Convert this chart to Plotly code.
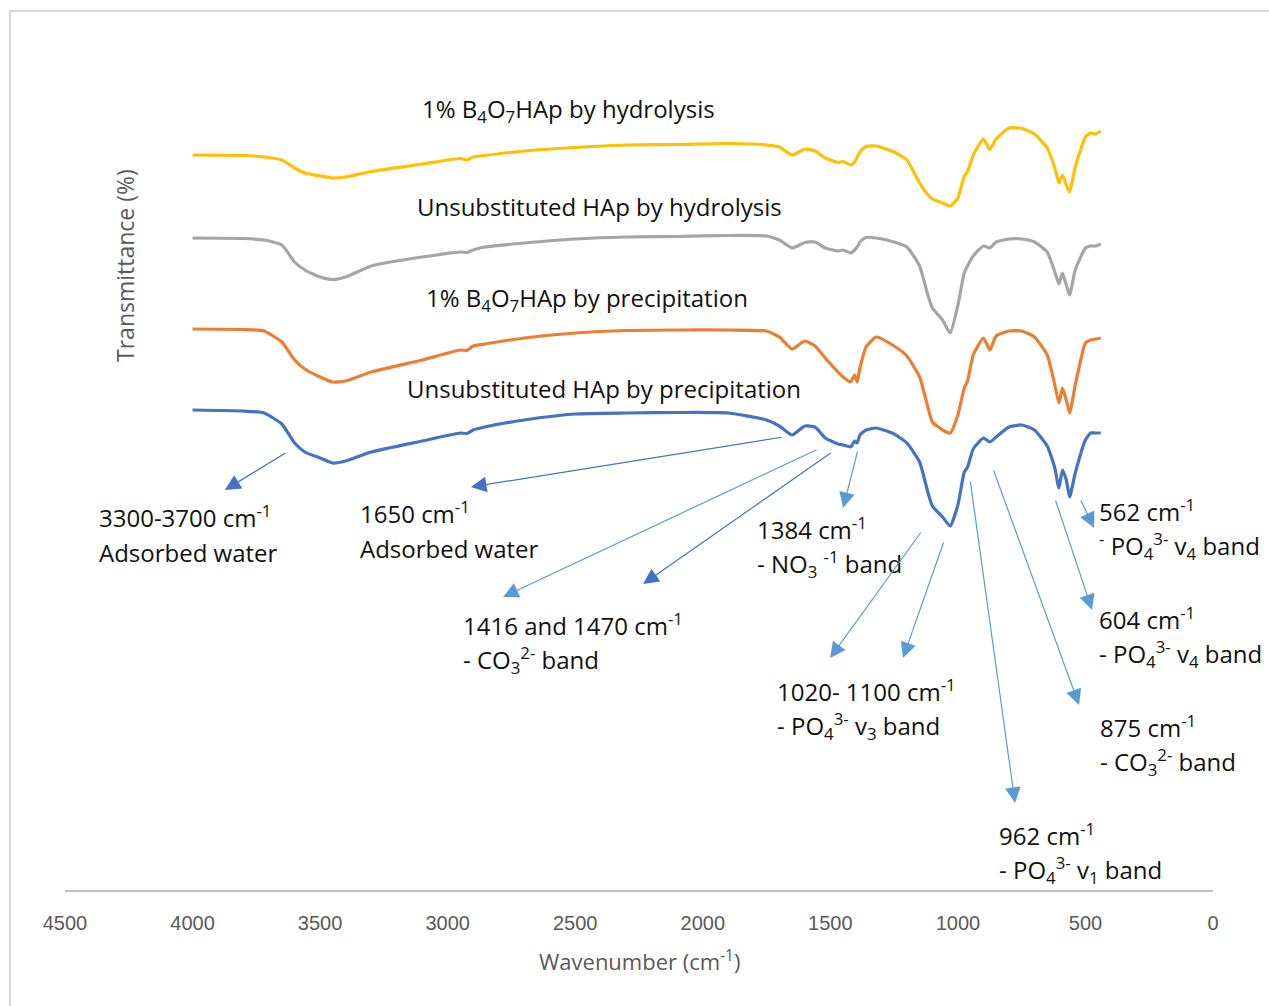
import plotly.graph_objects as go

# ---- FTIR spectra (wavenumber in cm-1, transmittance in offset arbitrary units) ----
wavenumber = [4000, 3800, 3720, 3650, 3600, 3560, 3500, 3450, 3400, 3300,
              3100, 2950, 2925, 2900, 2855, 2700, 2500, 2300, 2100, 1900,
              1750, 1700, 1650, 1600, 1560, 1520, 1470, 1450, 1420, 1405,
              1395, 1384, 1360, 1320, 1250, 1200, 1150, 1120, 1100, 1060,
              1030, 1000, 975, 962, 940, 900, 875, 850, 800, 750,
              700, 650, 620, 604, 590, 575, 562, 540, 500, 480,
              460, 440]

borate_hydrolysis = [735, 734.5, 733, 730, 722, 717, 714, 712, 713, 718.5,
                     726, 731.5, 730, 733, 734.5, 739, 742.5, 745, 745.5, 746.5,
                     745, 743, 735, 741, 739, 732, 727.5, 728.5, 725, 728,
                     733, 738, 743.5, 744, 738, 730, 707, 696, 691, 687,
                     684, 692, 714, 718.5, 735, 751, 740.5, 751, 762, 761.5,
                     756, 742, 722, 707, 715, 705, 698, 723, 753, 757,
                     756, 759]

hap_hydrolysis = [652, 651.5, 650, 645, 628, 620, 613, 610.5, 613, 624,
                  633, 638, 637.5, 640, 643, 647, 651, 653, 653.5, 654.5,
                  654, 650, 642, 647.5, 648, 642, 639, 640, 637, 640,
                  643, 648, 652.5, 652, 648, 643, 624, 597, 582, 570,
                  557, 585, 617, 624, 634, 644, 642, 648, 651, 651,
                  648, 638, 618, 606, 617, 605, 595, 620, 642, 644,
                  644, 646]

borate_precipitation = [561, 560.5, 559, 548, 530, 521, 513, 508, 509, 518,
                        530, 540, 539.5, 544, 546, 552, 557, 559.5, 560, 560,
                        559, 553, 541, 549, 544, 532, 518, 513, 508, 515,
                        508, 522, 543, 553, 544, 534, 513, 485, 468, 460,
                        457, 475, 502, 509, 535, 552, 540, 554, 559, 559,
                        553, 535, 505, 487, 502, 490, 477, 505, 547, 550,
                        551, 552]

hap_precipitation = [480, 479, 477, 466, 447, 438, 432, 427, 429, 438,
                     449, 457, 456.5, 460, 463, 470, 476, 477, 477.5, 477,
                     470, 464, 455, 464, 463, 452, 446, 445, 443, 449,
                     447, 455, 460, 462, 456, 447, 428, 400, 384, 373,
                     364, 385, 418, 423, 441, 452, 448, 453, 463, 465,
                     460, 444, 422, 402, 420, 410, 393, 417, 450, 457,
                     457, 457]

series_names = ["1% B<sub>4</sub>O<sub>7</sub>HAp by hydrolysis",
                "Unsubstituted HAp by hydrolysis",
                "1% B<sub>4</sub>O<sub>7</sub>HAp by precipitation",
                "Unsubstituted HAp by precipitation"]
series_values = [borate_hydrolysis, hap_hydrolysis, borate_precipitation, hap_precipitation]
series_colors = ["#FFC000", "#A5A5A5", "#ED7D31", "#4472C4"]

# x ticks
tick_values = [4500, 4000, 3500, 3000, 2500, 2000, 1500, 1000, 500, 0]
tick_labels = ["4500", "4000", "3500", "3000", "2500", "2000", "1500", "1000", "500", "0"]

# band assignments: two text lines each
band_notes = [
    ("3300-3700 cm<sup>-1</sup>", "Adsorbed water"),
    ("1650 cm<sup>-1</sup>", "Adsorbed water"),
    ("1384 cm<sup>-1</sup>", "- NO<sub>3</sub> <sup>-1</sup> band"),
    ("1416 and 1470 cm<sup>-1</sup>", "- CO<sub>3</sub><sup>2-</sup> band"),
    ("1020- 1100 cm<sup>-1</sup>", "- PO<sub>4</sub><sup>3-</sup> v<sub>3</sub> band"),
    ("962 cm<sup>-1</sup>", "- PO<sub>4</sub><sup>3-</sup> v<sub>1</sub> band"),
    ("875 cm<sup>-1</sup>", "- CO<sub>3</sub><sup>2-</sup> band"),
    ("604 cm<sup>-1</sup>", "- PO<sub>4</sub><sup>3-</sup> v<sub>4</sub> band"),
    ("562 cm<sup>-1</sup>", "<sup>-</sup> PO<sub>4</sub><sup>3-</sup> v<sub>4</sub> band"),
]

# ---- layout constants ----
note_anchor = [(4375, 374), (3352, 378), (1795, 362), (2948, 266), (1717, 200),
               (847, 56), (451, 164), (455, 272), (455, 380)]
line_gap = 36

# arrows: (tail x, tail y, head x, head y) in axis units
arrows = [
    (3630, 438, 3873, 400, "#4472C4"),
    (1686, 453, 2909, 403, "#4472C4"),
    (1548, 441, 2783, 293, "#5B9BD5"),
    (1493, 438, 2234, 306, "#4472C4"),
    (1392, 440, 1450, 382, "#5B9BD5"),
    (1141, 359, 1501, 232, "#5B9BD5"),
    (1054, 349, 1215, 232, "#5B9BD5"),
    (952, 410, 776, 87, "#5B9BD5"),
    (862, 421, 525, 185, "#5B9BD5"),
    (619, 391, 474, 280, "#5B9BD5"),
    (521, 391, 466, 362, "#5B9BD5"),
]

series_label_pos = [(3108, 780), (3128, 684), (3093, 591), (3167, 502)]

text_font = dict(family="Open Sans, Noto Sans, sans-serif", size=24, color="#111111")
axis_font = dict(family="Liberation Sans, Arial, sans-serif", size=20, color="#595959")

fig = go.Figure()
for name, vals, col in zip(series_names, series_values, series_colors):
    fig.add_trace(go.Scatter(x=wavenumber, y=vals, mode="lines", name=name,
                             line=dict(color=col, width=3.2, shape="spline", smoothing=0.5),
                             showlegend=False, hoverinfo="skip"))

annotations = []
for name, (lx, ly) in zip(series_names, series_label_pos):
    annotations.append(dict(x=lx, y=ly, xref="x", yref="y", text=name, showarrow=False,
                            xanchor="left", yanchor="middle", font=text_font))

for (l1, l2), (nx, ny) in zip(band_notes, note_anchor):
    annotations.append(dict(x=nx, y=ny, xref="x", yref="y", text=l1, showarrow=False,
                            xanchor="left", yanchor="middle", font=text_font))
    annotations.append(dict(x=nx, y=ny - line_gap, xref="x", yref="y", text=l2, showarrow=False,
                            xanchor="left", yanchor="middle", font=text_font))

for tx, ty, hx, hy, col in arrows:
    annotations.append(dict(x=hx, y=hy, ax=tx, ay=ty, xref="x", yref="y", axref="x", ayref="y",
                            text="", showarrow=True, arrowhead=2, arrowsize=2.6,
                            arrowwidth=1.2, arrowcolor=col))

# rotated y-axis title
annotations.append(dict(x=4265, y=625, xref="x", yref="y", text="Transmittance (%)",
                        textangle=-90, showarrow=False, xanchor="center", yanchor="middle",
                        font=dict(family="Open Sans, Noto Sans, sans-serif", size=23, color="#595959")))
# x-axis title
annotations.append(dict(x=0.5, y=-0.0816, xref="paper", yref="paper",
                        text="Wavenumber (cm<sup>-1</sup>)", showarrow=False,
                        xanchor="center", yanchor="middle",
                        font=dict(family="Open Sans, Noto Sans, sans-serif", size=22, color="#595959")))

fig.update_layout(
    width=1269, height=1006,
    margin=dict(l=65, r=56, t=20, b=116),
    paper_bgcolor="white", plot_bgcolor="white",
    annotations=annotations,
    shapes=[dict(type="rect", xref="paper", yref="paper",
                 x0=-0.0479, x1=1.06, y0=-0.14, y1=1.0103,
                 line=dict(color="#D9D9D9", width=2), layer="below")],
)
fig.update_xaxes(range=[4500, 0], tickvals=tick_values, ticktext=tick_labels,
                 showgrid=False, zeroline=False, showline=True, linecolor="#BFBFBF", linewidth=2,
                 ticks="outside", ticklen=14, tickcolor="rgba(0,0,0,0)", tickfont=axis_font)
fig.update_yaxes(range=[0, 870], showticklabels=False, showgrid=False, zeroline=False,
                 showline=False, ticks="")

fig.write_html("out.html")
